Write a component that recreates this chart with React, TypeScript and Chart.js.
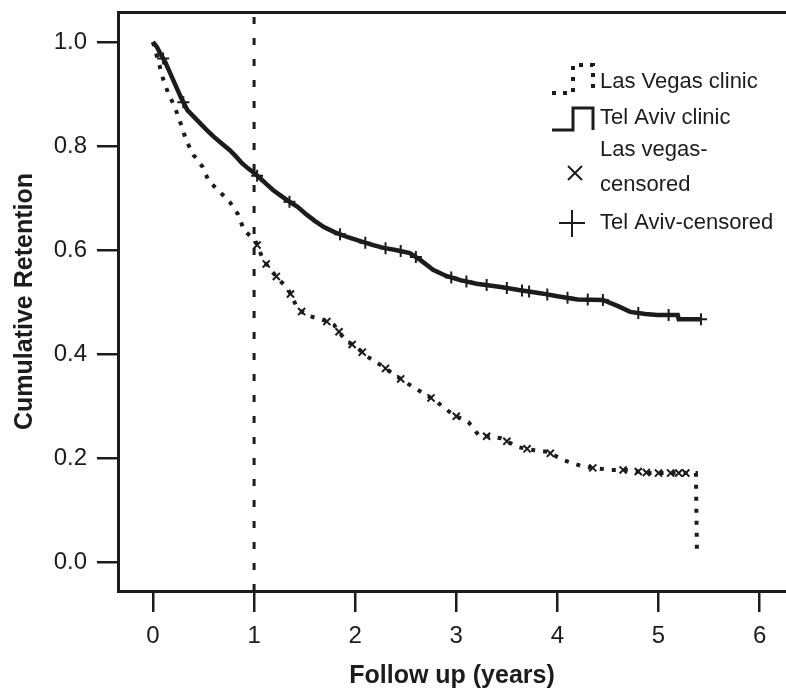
import React, { useEffect, useRef } from "react";
import { Chart, registerables } from "chart.js";

Chart.register(...registerables);

const X_TICKS = [0, 1, 2, 3, 4, 5, 6];
const Y_TICKS = [0, 0.2, 0.4, 0.6, 0.8, 1.0];
const REF_LINE_X = 1;

const TA_TIME = [0, 0.04, 0.08, 0.12, 0.17, 0.22, 0.28, 0.34, 0.4, 0.46, 0.53, 0.6, 0.68, 0.76, 0.82, 0.88, 0.94, 1.0, 1.06, 1.12, 1.19, 1.26, 1.34, 1.43, 1.52, 1.6, 1.69, 1.8, 1.92, 2.05, 2.17, 2.28, 2.4, 2.54, 2.65, 2.77, 2.9, 3.04, 3.2, 3.44, 3.62, 3.83, 4.0, 4.2, 4.45, 4.6, 4.72, 4.87, 4.99, 5.19, 5.2, 5.42];
const TA_SURV = [1.0, 0.99, 0.975, 0.962, 0.94, 0.918, 0.892, 0.869, 0.857, 0.845, 0.831, 0.818, 0.805, 0.792, 0.78, 0.767, 0.757, 0.748, 0.738, 0.727, 0.715, 0.705, 0.694, 0.683, 0.668, 0.656, 0.644, 0.634, 0.625, 0.617, 0.61, 0.604, 0.6, 0.594, 0.58, 0.562, 0.55, 0.542, 0.535, 0.529, 0.523, 0.517, 0.511, 0.505, 0.504, 0.492, 0.481, 0.477, 0.475, 0.475, 0.467, 0.467];

const LV_TIME = [0, 0.05, 0.1, 0.15, 0.22, 0.28, 0.33, 0.4, 0.49, 0.55, 0.66, 0.76, 0.84, 0.9, 1.01, 1.05, 1.09, 1.14, 1.19, 1.26, 1.33, 1.43, 1.51, 1.69, 1.79, 1.9, 2.02, 2.12, 2.25, 2.42, 2.52, 2.62, 2.78, 2.97, 3.12, 3.22, 3.44, 3.61, 3.77, 3.9, 4.06, 4.26, 4.53, 4.68, 4.92, 5.37, 5.38];
const LV_SURV = [1.0, 0.965, 0.929, 0.902, 0.873, 0.84, 0.81, 0.783, 0.76, 0.733, 0.712, 0.692, 0.669, 0.638, 0.619, 0.6, 0.581, 0.568, 0.556, 0.54, 0.527, 0.488, 0.475, 0.465, 0.456, 0.427, 0.412, 0.395, 0.379, 0.356, 0.343, 0.331, 0.312, 0.283, 0.269, 0.244, 0.238, 0.221, 0.215, 0.212, 0.196, 0.183, 0.177, 0.177, 0.171, 0.171, 0.017];

const TA_CENS_TIME = [0.1, 0.3, 1.03, 1.35, 1.85, 2.1, 2.3, 2.45, 2.6, 2.95, 3.1, 3.3, 3.5, 3.65, 3.72, 3.9, 4.1, 4.3, 4.45, 4.8, 5.1, 5.42];
const LV_CENS_TIME = [1.03, 1.12, 1.22, 1.36, 1.47, 1.72, 1.84, 1.97, 2.07, 2.3, 2.45, 2.75, 3.0, 3.3, 3.5, 3.7, 3.93, 4.35, 4.65, 4.8, 4.88, 5.0, 5.12, 5.2, 5.27];

const LEGEND_LINE_LABELS = ["Las Vegas clinic", "Tel Aviv clinic"];
const LEGEND_CENS_LABELS = [["Las vegas-", "censored"], ["Tel Aviv-censored"]];

const X_TITLE = "Follow up (years)";
const Y_TITLE = "Cumulative Retention";

const INK = "#1c1c1c";
const FONT = "'Liberation Sans', Arial, Helvetica, sans-serif";

function curveAt(times: number[], surv: number[], t: number): number {
  for (let i = 1; i < times.length; i++) {
    if (times[i] >= t) {
      const t0 = times[i - 1];
      const t1 = times[i];
      const f = t1 === t0 ? 1 : (t - t0) / (t1 - t0);
      return surv[i - 1] + f * (surv[i] - surv[i - 1]);
    }
  }
  return surv[surv.length - 1];
}

const legendPlugin = {
  id: "kmLegend",
  afterDraw(chart: any) {
    const ctx = chart.ctx as CanvasRenderingContext2D;
    ctx.save();
    ctx.strokeStyle = INK;
    ctx.fillStyle = INK;
    ctx.lineCap = "butt";
    const step = (yLow: number, yTop: number, dashed: boolean) => {
      ctx.beginPath();
      ctx.lineWidth = dashed ? 4 : 3;
      ctx.setLineDash(dashed ? [4, 7] : []);
      ctx.moveTo(552, yLow);
      ctx.lineTo(573, yLow);
      ctx.lineTo(573, yTop);
      ctx.lineTo(593, yTop);
      ctx.lineTo(593, yLow);
      ctx.stroke();
      ctx.setLineDash([]);
    };
    step(93, 65, true);
    step(130, 108, false);
    ctx.lineWidth = 2;
    ctx.beginPath();
    ctx.moveTo(568, 166);
    ctx.lineTo(582, 180);
    ctx.moveTo(582, 166);
    ctx.lineTo(568, 180);
    ctx.stroke();
    ctx.beginPath();
    ctx.moveTo(559, 223);
    ctx.lineTo(585, 223);
    ctx.moveTo(572, 210);
    ctx.lineTo(572, 237);
    ctx.stroke();
    ctx.font = `22px ${FONT}`;
    ctx.textBaseline = "middle";
    ctx.textAlign = "left";
    ctx.fillText(LEGEND_LINE_LABELS[0], 600, 82);
    ctx.fillText(LEGEND_LINE_LABELS[1], 600, 118);
    ctx.fillText(LEGEND_CENS_LABELS[0][0], 600, 150);
    ctx.fillText(LEGEND_CENS_LABELS[0][1], 600, 185);
    ctx.fillText(LEGEND_CENS_LABELS[1][0], 600, 223);
    ctx.restore();
  },
};

const X_MIN = -0.346;
const X_MAX = 6.261;
const Y_MIN = -0.0558;
const Y_MAX = 1.0577;

export default function App() {
  const ref = useRef<HTMLCanvasElement | null>(null);
  useEffect(() => {
    if (!ref.current) return;
    const ta = TA_TIME.map((t, i) => ({ x: t, y: TA_SURV[i] }));
    const lv = LV_TIME.map((t, i) => ({ x: t, y: LV_SURV[i] }));
    const taC = TA_CENS_TIME.map((t) => ({ x: t, y: curveAt(TA_TIME, TA_SURV, t) }));
    const lvC = LV_CENS_TIME.map((t) => ({ x: t, y: curveAt(LV_TIME, LV_SURV, t) }));
    const refLine = [
      { x: REF_LINE_X, y: Y_MIN },
      { x: REF_LINE_X, y: Y_MAX },
    ];
    const chart = new Chart(ref.current, {
      type: "scatter",
      data: {
        datasets: [
          {
            label: "ref",
            data: refLine,
            showLine: true,
            borderColor: INK,
            borderWidth: 3,
            borderDash: [7, 14],
            pointRadius: 0,
          },
          {
            label: "Tel Aviv clinic",
            data: ta,
            showLine: true,
            borderColor: INK,
            borderWidth: 4.5,
            pointRadius: 0,
          },
          {
            label: "Las Vegas clinic",
            data: lv,
            showLine: true,
            borderColor: INK,
            borderWidth: 4,
            borderDash: [4, 8],
            pointRadius: 0,
          },
          {
            label: "Tel Aviv-censored",
            data: taC,
            pointStyle: "cross",
            pointRadius: 6,
            borderColor: INK,
            borderWidth: 2,
          },
          {
            label: "Las vegas-censored",
            data: lvC,
            pointStyle: "crossRot",
            pointRadius: 5,
            borderColor: INK,
            borderWidth: 2,
          },
        ],
      },
      options: {
        responsive: false,
        animation: false,
        devicePixelRatio: 1,
        layout: { autoPadding: false, padding: { top: 12, right: 0, left: 0, bottom: 0 } },
        plugins: { legend: { display: false }, tooltip: { enabled: false } },
        scales: {
          x: {
            type: "linear",
            position: "bottom",
            min: X_MIN,
            max: X_MAX,
            afterBuildTicks: (s: any) => {
              s.ticks = X_TICKS.map((v) => ({ value: v }));
            },
            afterFit: (s: any) => {
              s.height = 101;
              s.paddingLeft = 0;
              s.paddingRight = 0;
            },
            grid: { display: true, drawOnChartArea: false, drawTicks: true, tickLength: 21, color: INK, lineWidth: 2.5 },
            border: { display: true, color: INK, width: 3 },
            ticks: { font: { size: 24, family: FONT }, color: INK, padding: 10, maxRotation: 0, callback: (v: any) => String(v) },
            title: { display: true, text: X_TITLE, font: { size: 25, weight: "bold", family: FONT }, color: INK, padding: { top: 0, bottom: 1 } },
          },
          xTop: {
            type: "linear",
            position: "top",
            min: X_MIN,
            max: X_MAX,
            afterFit: (s: any) => {
              s.height = 0;
              s.paddingLeft = 0;
              s.paddingRight = 0;
            },
            grid: { display: false },
            ticks: { display: false },
            border: { display: true, color: INK, width: 3 },
          },
          y: {
            type: "linear",
            min: Y_MIN,
            max: Y_MAX,
            afterBuildTicks: (s: any) => {
              s.ticks = Y_TICKS.map((v) => ({ value: v }));
            },
            afterFit: (s: any) => {
              s.width = 118;
              s.paddingTop = 0;
              s.paddingBottom = 0;
            },
            grid: { display: true, drawOnChartArea: false, drawTicks: true, tickLength: 21, color: INK, lineWidth: 2.5 },
            border: { display: true, color: INK, width: 3 },
            ticks: { font: { size: 24, family: FONT }, color: INK, padding: 10, callback: (v: any) => Number(v).toFixed(1) },
            title: { display: true, text: Y_TITLE, font: { size: 25, weight: "bold", family: FONT }, color: INK, padding: { top: 10, bottom: 0 } },
          },
        },
      },
      plugins: [legendPlugin],
    } as any);
    return () => chart.destroy();
  }, []);
  return (
    <div style={{ position: "fixed", left: 0, top: 0, width: 786, height: 692, background: "#fff" }}>
      <canvas ref={ref} width={786} height={692} style={{ display: "block" }} />
    </div>
  );
}
